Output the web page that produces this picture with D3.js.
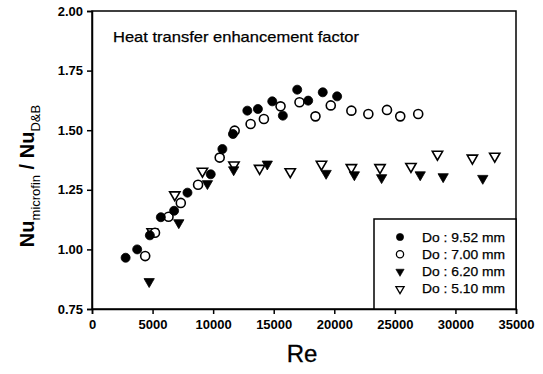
<!DOCTYPE html>
<html>
<head>
<meta charset="utf-8">
<script src="https://cdn.jsdelivr.net/npm/d3@7"></script>
<style>
  body { margin: 0; background: #fff; }
  svg { display: block; font-family: Arial, "Liberation Sans", sans-serif; }
</style>
</head>
<body>
<svg id="chart" width="543" height="374"></svg>
<script>
// Reynolds number and Nu ratio for each tube outer diameter
const re952  = [2775, 3730, 4776, 5682, 6777, 7881, 9800, 10763, 11636, 12822, 13695, 14881, 15754, 16940, 17846, 19048, 20234];
const nu952  = [0.965, 1.000, 1.059, 1.135, 1.162, 1.238, 1.315, 1.421, 1.484, 1.582, 1.589, 1.621, 1.561, 1.670, 1.624, 1.659, 1.642];

const re700  = [4390, 5200, 6316, 7330, 8756, 10541, 11776, 13094, 14190, 15564, 17128, 18446, 19710, 21411, 22811, 24350, 25446, 26928];
const nu700  = [0.972, 1.070, 1.137, 1.195, 1.271, 1.385, 1.498, 1.526, 1.547, 1.600, 1.617, 1.558, 1.604, 1.582, 1.568, 1.585, 1.558, 1.568];

const re620  = [4720, 7164, 9527, 11694, 14469, 19326, 21658, 23906, 27093, 28987, 32257];
const nu620  = [0.865, 1.112, 1.276, 1.334, 1.358, 1.319, 1.313, 1.301, 1.313, 1.305, 1.298];

const re510  = [4966, 6835, 9116, 11718, 13835, 16364, 18941, 21411, 23774, 26328, 28518, 31400, 33245];
const nu510  = [1.074, 1.229, 1.328, 1.354, 1.340, 1.326, 1.357, 1.343, 1.343, 1.348, 1.399, 1.383, 1.391];

const seriesNames = ["Do : 9.52 mm", "Do : 7.00 mm", "Do : 6.20 mm", "Do : 5.10 mm"];
const xTicks = [0, 5000, 10000, 15000, 20000, 25000, 30000, 35000];
const yTicks = [0.75, 1.00, 1.25, 1.50, 1.75, 2.00];
const titleText = "Heat transfer enhancement factor";

const series = [
  { name: seriesNames[0], x: re952, y: nu952, shape: "circle",   filled: true },
  { name: seriesNames[1], x: re700, y: nu700, shape: "circle",   filled: false },
  { name: seriesNames[2], x: re620, y: nu620, shape: "triangle", filled: true },
  { name: seriesNames[3], x: re510, y: nu510, shape: "triangle", filled: false }
];

const svg = d3.select("#chart");
const plotL = 92, plotR = 516, plotT = 11, plotB = 309;

const x = d3.scaleLinear().domain([0, 35000]).range([plotL, plotR]);
const y = d3.scaleLinear().domain([0.75, 2.00]).range([plotB, plotT]);

// plot frame
svg.append("rect")
  .attr("x", plotL).attr("y", plotT)
  .attr("width", plotR - plotL).attr("height", plotB - plotT)
  .attr("fill", "none").attr("stroke", "#000").attr("stroke-width", 1.5);

// axes
const xAxis = svg.append("g")
  .attr("transform", `translate(0,${plotB})`)
  .call(d3.axisBottom(x).tickValues(xTicks).tickSize(5).tickPadding(6).tickFormat(d3.format("d")));
const yAxis = svg.append("g")
  .attr("transform", `translate(${plotL},0)`)
  .call(d3.axisLeft(y).tickValues(yTicks).tickSize(5).tickPadding(4).tickFormat(d3.format(".2f")));

[xAxis, yAxis].forEach(g => {
  g.select(".domain").attr("stroke", "#000").attr("stroke-width", 1.5);
  g.selectAll(".tick line").attr("stroke", "#000").attr("stroke-width", 1.5);
  g.selectAll(".tick text")
    .attr("fill", "#000")
    .style("font-family", "Arial, 'Liberation Sans', sans-serif")
    .style("font-size", "13px")
    .style("font-weight", "bold");
});

// markers
const sym = {
  circle: d3.symbol().type(d3.symbolCircle).size(64),
  triangle: d3.symbol().type(d3.symbolTriangle).size(46)
};
function drawMarker(g, s, cx, cy, k = 1) {
  return g.append("path")
    .attr("d", sym[s.shape]())
    .attr("transform", `translate(${cx},${cy}) scale(${k})` + (s.shape === "triangle" ? " rotate(180)" : ""))
    .attr("fill", s.filled ? "#000" : "#fff")
    .attr("stroke", "#000")
    .attr("stroke-width", s.filled ? 0.8 : 1.6);
}

const points = svg.append("g");
series.slice().reverse().forEach(s => {
  s.x.forEach((v, i) => drawMarker(points, s, x(v), y(s.y[i])));
});

// title inside plot
svg.append("text")
  .attr("x", 113).attr("y", 42)
  .attr("textLength", 246)
  .attr("lengthAdjust", "spacingAndGlyphs")
  .style("font-size", "15px")
  .style("stroke", "#000").style("stroke-width", 0.25)
  .text(titleText);

// legend
const lg = svg.append("g");
lg.append("rect")
  .attr("x", 374).attr("y", 219)
  .attr("width", plotR - 374).attr("height", plotB - 219)
  .attr("fill", "#fff").attr("stroke", "#000").attr("stroke-width", 1.5);
series.forEach((s, i) => {
  const cy = 237 + i * 17.3;
  drawMarker(lg, s, 400, cy, 0.8);
  lg.append("text")
    .attr("x", 422).attr("y", cy + 4.5)
    .attr("textLength", 83)
    .attr("lengthAdjust", "spacingAndGlyphs")
    .style("font-size", "13.5px")
    .style("stroke", "#000").style("stroke-width", 0.25)
    .text(s.name);
});

// axis titles
svg.append("text")
  .attr("x", 302).attr("y", 362)
  .attr("text-anchor", "middle")
  .style("font-size", "24px")
  .style("stroke", "#000").style("stroke-width", 0.3)
  .text("Re");

const yl = svg.append("text")
  .attr("transform", "translate(34,176) rotate(-90)")
  .attr("text-anchor", "middle")
  .style("font-size", "20px")
  .style("font-weight", "bold");
yl.append("tspan").text("Nu");
yl.append("tspan").attr("dy", 6).style("font-size", "13px").style("font-weight", "normal").text("microfin");
yl.append("tspan").attr("dy", -6).text(" / Nu");
yl.append("tspan").attr("dy", 6).style("font-size", "13px").style("font-weight", "normal").text("D&B");
</script>
</body>
</html>
